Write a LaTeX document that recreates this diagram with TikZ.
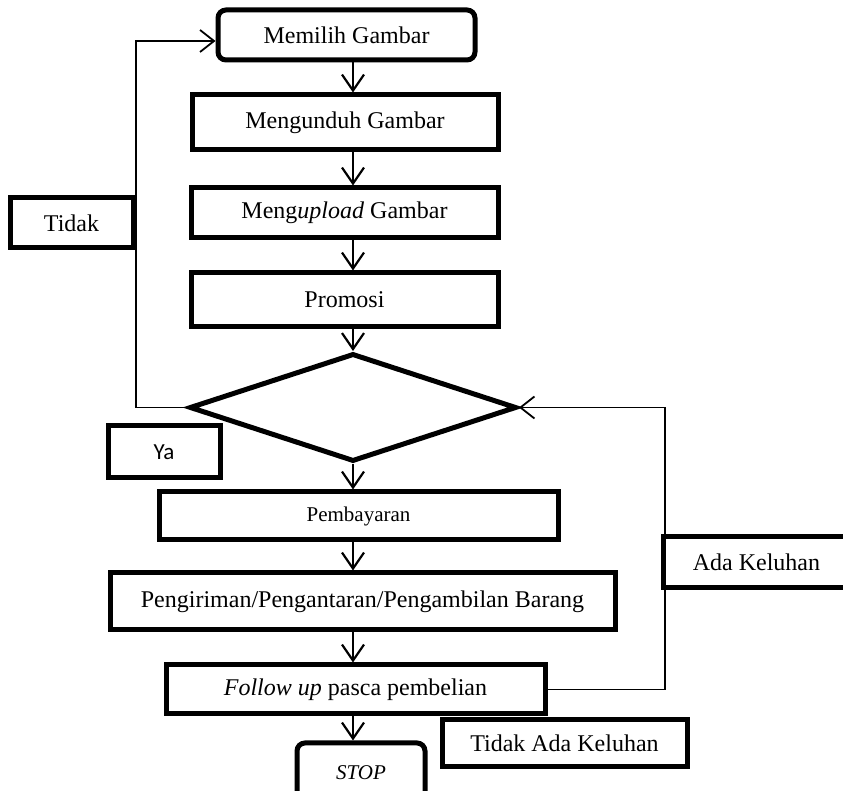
\documentclass[tikz,border=0pt]{standalone}
\usepackage{fontspec}
\setmainfont{Liberation Serif}
\newfontfamily\yafont{Carlito}
\usetikzlibrary{arrows.meta,shapes.geometric,calc}

\begin{document}
\begin{tikzpicture}[
		x=0.5pt, y=-0.5pt,
		every node/.style={align=center, font=\fontsize{12}{14}\selectfont},
		processBox/.style={draw, rectangle, line width=2.5pt, inner sep=0pt},
		terminalBox/.style={draw, rectangle, rounded corners=4pt, line width=2.5pt, inner sep=0pt},
		decisionVertex/.style={draw, diamond, aspect=3, line width=2.5pt, inner sep=0pt, minimum width=163.5pt, minimum height=54pt},
		labelBox/.style={draw, rectangle, line width=2.5pt, inner sep=0pt},
		flowarrow/.style={line width=1.1pt, -{Straight Barb[length=8pt, width=11pt]}},  % arrows down the main flow
		looparrow/.style={line width=0.9pt, -{Straight Barb[length=7pt, width=11pt]}}    % arrows going back
	]

	\useasboundingbox (0,0) rectangle (843,791);

	% main flow
	\node[terminalBox, minimum width=128.5pt, minimum height=25pt] (memilih) at (346.5,35) {Memilih Gambar};
	\node[processBox, minimum width=153pt, minimum height=27.5pt] (mengunduh) at (345,122.5) {Mengunduh Gambar};
	\node[processBox, minimum width=153.5pt, minimum height=25pt] (mengupload) at (344.5,213) {Meng\textit{upload} Gambar};
	\node[processBox, minimum width=153.5pt, minimum height=27pt] (promosi) at (344.5,300) {Promosi};
	\node[decisionVertex] (pilih) at (353,407.5) {};
	\node[processBox, minimum width=199.5pt, minimum height=24pt, font=\fontsize{10.5}{12}\selectfont] (bayar) at (358.5,516) {Pembayaran};
	\node[processBox, minimum width=252.5pt, minimum height=28.5pt] (kirim) at (362.5,601.5) {Pengiriman/Pengantaran/Pengambilan Barang};
	\node[processBox, minimum width=189.5pt, minimum height=24.5pt] (followup) at (355.5,689.5) {\textit{Follow up} pasca pembelian};
	\node[terminalBox, minimum width=64pt, minimum height=30pt, font=\fontsize{10.5}{12}\selectfont\itshape] (stop) at (361,773) {STOP};

	% labels
	\node[labelBox, minimum width=61.5pt, minimum height=25pt] (tidak) at (71.5,223) {Tidak};
	\node[labelBox, minimum width=56pt, minimum height=26pt, font={\yafont\fontsize{11.5}{13}\selectfont}] (ya) at (164,452) {Ya};
	\node[labelBox, minimum width=93.5pt, minimum height=25.5pt] (ada) at (756.5,562.5) {Ada Keluhan};
	\node[labelBox, minimum width=122.5pt, minimum height=23.5pt] (tidakada) at (564.5,743.5) {Tidak Ada Keluhan};

	\coordinate (spine) at (353,0);
	\coordinate (kiri) at (136,0);
	\coordinate (kanan) at (665,0);

	\foreach \a/\b in {memilih/mengunduh, mengunduh/mengupload, mengupload/promosi, promosi/pilih,
			pilih/bayar, bayar/kirim, kirim/followup, followup/stop}
		\draw[flowarrow] (\a.south -| spine) -- (\b.north -| spine);

	% back loops
	\draw[looparrow] (pilih.west) -- (pilih.west -| kiri) |- ($(memilih.west)+(0,6)$);
	\draw[looparrow] (followup.east) -- (followup.east -| kanan) |- (pilih.east);
\end{tikzpicture}
\end{document}
